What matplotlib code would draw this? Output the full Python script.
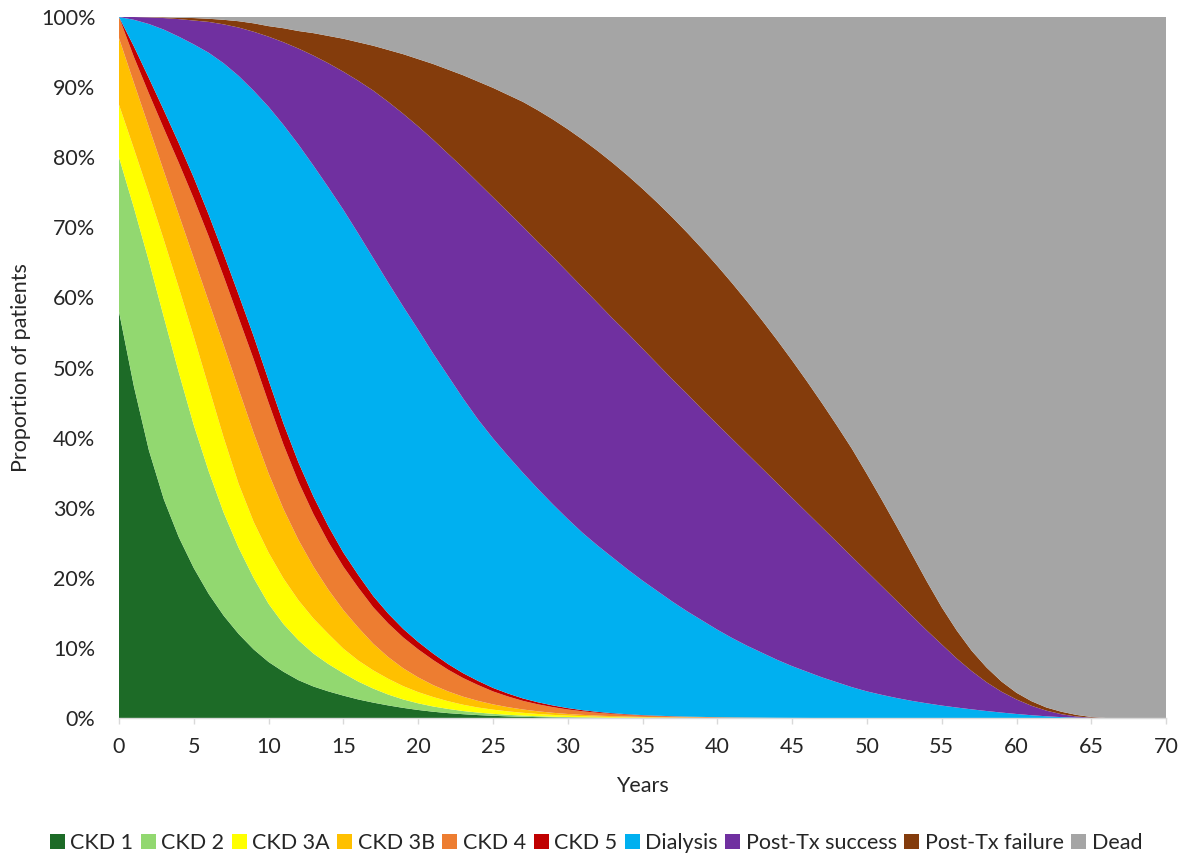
import matplotlib
matplotlib.use("Agg")
import matplotlib.pyplot as plt
from matplotlib.ticker import PercentFormatter
from matplotlib.patches import Patch

years = [0, 1, 2, 3, 4, 5, 6, 7, 8, 9, 10, 11, 12, 13, 14, 15, 16, 17, 18, 19, 20,
         21, 22, 23, 24, 25, 26, 27, 28, 29, 30, 31, 32, 33, 34, 35, 36, 37, 38, 39,
         40, 41, 42, 43, 44, 45, 46, 47, 48, 49, 50, 51, 52, 53, 54, 55, 56, 57, 58,
         59, 60, 61, 62, 63, 64, 65, 66, 70]

ckd1 = [58, 47.3, 38.2, 31.2, 25.8, 21.4, 17.7, 14.6, 12, 9.8, 8.0, 6.6, 5.4, 4.5,
        3.8, 3.2, 2.65, 2.2, 1.8, 1.45, 1.15, 0.9, 0.7, 0.55, 0.42, 0.32, 0.24, 0.18,
        0.13, 0.09, 0.06, 0.04, 0.03, 0.02, 0.01, 0, 0, 0, 0, 0, 0, 0, 0, 0, 0, 0, 0,
        0, 0, 0, 0, 0, 0, 0, 0, 0, 0, 0, 0, 0, 0, 0, 0, 0, 0, 0, 0, 0]
ckd2 = [22, 25.5, 27, 26, 23.5, 20.4, 17.5, 14.7, 12.3, 10.2, 8.3, 6.8, 5.7, 4.7, 3.9,
        3.2, 2.55, 2.0, 1.55, 1.2, 0.95, 0.75, 0.6, 0.45, 0.36, 0.28, 0.22, 0.17, 0.13,
        0.1, 0.08, 0.06, 0.04, 0.03, 0.02, 0.02, 0.01, 0, 0, 0, 0, 0, 0, 0, 0, 0, 0, 0,
        0, 0, 0, 0, 0, 0, 0, 0, 0, 0, 0, 0, 0, 0, 0, 0, 0, 0, 0, 0]
ckd3a = [7.5, 8.4, 9.6, 11, 12.1, 12.6, 12, 10.7, 9.1, 8, 7.3, 6.5, 5.7, 5.0, 4.3, 3.5,
         3.0, 2.6, 2.25, 1.9, 1.6, 1.35, 1.1, 0.9, 0.72, 0.6, 0.49, 0.4, 0.32, 0.26,
         0.21, 0.17, 0.13, 0.1, 0.08, 0.06, 0.05, 0.04, 0.03, 0.02, 0.01, 0, 0, 0, 0,
         0, 0, 0, 0, 0, 0, 0, 0, 0, 0, 0, 0, 0, 0, 0, 0, 0, 0, 0, 0, 0, 0, 0]
ckd3b = [9.5, 9.4, 9.5, 9.8, 10.4, 11.2, 12.2, 13.2, 13.5, 12.7, 11.3, 9.9, 8.6, 7.4,
         6.3, 5.5, 4.7, 3.8, 3.1, 2.55, 2.1, 1.7, 1.4, 1.15, 0.95, 0.75, 0.6, 0.47,
         0.38, 0.3, 0.23, 0.18, 0.15, 0.12, 0.1, 0.08, 0.06, 0.05, 0.04, 0.03, 0.03,
         0.03, 0.02, 0.01, 0, 0, 0, 0, 0, 0, 0, 0, 0, 0, 0, 0, 0, 0, 0, 0, 0, 0, 0, 0,
         0, 0, 0, 0]
ckd4 = [3, 3.7, 4.8, 6.1, 7.4, 8.5, 9.3, 9.8, 10.2, 10.5, 10.1, 9.2, 8.3, 7.5, 6.8,
        6.2, 5.7, 5.2, 4.8, 4.4, 4.0, 3.58, 3.1, 2.66, 2.26, 1.85, 1.53, 1.23, 1.0,
        0.81, 0.64, 0.51, 0.4, 0.32, 0.25, 0.2, 0.16, 0.13, 0.1, 0.09, 0.06, 0.05,
        0.04, 0.04, 0.03, 0.02, 0.01, 0, 0, 0, 0, 0, 0, 0, 0, 0, 0, 0, 0, 0, 0, 0, 0,
        0, 0, 0, 0, 0]
ckd5 = [0, 1.5, 2.2, 2.6, 2.8, 3.0, 3.1, 3.2, 3.3, 3.3, 3.2, 3.0, 2.75, 2.5, 2.25,
        2.0, 1.8, 1.6, 1.4, 1.22, 1.06, 0.92, 0.8, 0.69, 0.59, 0.5, 0.42, 0.35, 0.29,
        0.24, 0.2, 0.16, 0.13, 0.1, 0.08, 0.06, 0.05, 0.04, 0.03, 0.02, 0.02, 0.01,
        0.01, 0, 0, 0, 0, 0, 0, 0, 0, 0, 0, 0, 0, 0, 0, 0, 0, 0, 0, 0, 0, 0, 0, 0, 0, 0]
dialysis = [0, 3.8, 7.7, 11.5, 15.2, 19.0, 23.1, 27.2, 31.2, 35.0, 39.0, 42.6, 45.35,
            47.2, 48.35, 48.9, 48.7, 48.2, 47.2, 45.98, 44.54, 42.8, 41.1, 39.2, 37.3,
            35.6, 33.9, 32.2, 30.45, 28.7, 26.98, 25.28, 23.72, 22.21, 20.66, 19.18,
            17.77, 16.34, 15.0, 13.74, 12.48, 11.31, 10.23, 9.25, 8.27, 7.38, 6.59,
            5.8, 5.1, 4.4, 3.8, 3.3, 2.85, 2.45, 2.1, 1.78, 1.5, 1.24, 1.0, 0.78,
            0.58, 0.4, 0.25, 0.13, 0.05, 0.01, 0, 0]
tx_success = [0, 0.4, 0.95, 1.65, 2.5, 3.4, 4.4, 5.55, 6.9, 8.4, 10.0, 11.8, 13.7,
              15.7, 17.7, 19.7, 21.8, 23.9, 25.8, 27.5, 29.0, 30.5, 31.7, 32.9, 33.8,
              34.4, 34.8, 35.1, 35.2, 35.3, 35.2, 35.0, 34.6, 34.1, 33.7, 33.1, 32.4,
              31.7, 31.0, 30.1, 29.3, 28.4, 27.4, 26.3, 25.2, 24.0, 22.7, 21.4, 20.0,
              18.6, 17.1, 15.5, 13.85, 12.15, 10.4, 8.72, 7.0, 5.46, 4.1, 2.97, 2.07,
              1.35, 0.8, 0.42, 0.17, 0.04, 0, 0]
tx_failure = [0, 0, 0.03, 0.1, 0.2, 0.35, 0.45, 0.65, 0.9, 1.2, 1.5, 2.0, 2.5, 3.2,
              3.9, 4.7, 5.5, 6.4, 7.4, 8.5, 9.6, 10.8, 12.0, 13.2, 14.4, 15.6, 16.7,
              17.8, 18.8, 19.6, 20.4, 21.1, 21.7, 22.2, 22.5, 22.8, 23.0, 23.1, 23.0,
              22.9, 22.6, 22.2, 21.7, 21.1, 20.4, 19.6, 18.7, 17.7, 16.6, 15.4, 13.9,
              12.3, 10.6, 8.8, 7.0, 5.3, 4.0, 2.9, 2.1, 1.45, 0.95, 0.65, 0.45, 0.35,
              0.23, 0.1, 0, 0]
dead = [0, 0, 0.02, 0.05, 0.1, 0.15, 0.25, 0.4, 0.6, 0.9, 1.3, 1.6, 2.0, 2.3, 2.7, 3.1,
        3.6, 4.1, 4.7, 5.3, 6.0, 6.7, 7.5, 8.3, 9.2, 10.1, 11.1, 12.1, 13.3, 14.6, 16.0,
        17.5, 19.1, 20.8, 22.6, 24.5, 26.5, 28.6, 30.8, 33.1, 35.5, 38.0, 40.6, 43.3,
        46.1, 49.0, 52.0, 55.1, 58.3, 61.6, 65.2, 68.9, 72.7, 76.6, 80.5, 84.2, 87.5,
        90.4, 92.8, 94.8, 96.4, 97.6, 98.5, 99.1, 99.55, 99.85, 100, 100]

labels = ["CKD 1", "CKD 2", "CKD 3A", "CKD 3B", "CKD 4", "CKD 5", "Dialysis",
          "Post-Tx success", "Post-Tx failure", "Dead"]
colors = ["#1D6B27", "#92D870", "#FFFF00", "#FFC000", "#ED7D31", "#C00000",
          "#00B0F0", "#7030A0", "#843C0C", "#A5A5A5"]

plt.rcParams['font.family'] = ['Lato', 'DejaVu Sans']
text_color = "#262626"
fs = 15.5

fig = plt.figure(figsize=(11.92, 8.59), dpi=100)
ax = fig.add_axes([0.0998, 0.1641, 0.8785, 0.8161])

series = [ckd1, ckd2, ckd3a, ckd3b, ckd4, ckd5, dialysis, tx_success, tx_failure, dead]
ax.stackplot(years, *series, colors=colors, labels=labels, linewidth=0)

ax.set_xlim(0, 70)
ax.set_ylim(0, 100)
ax.set_xticks(range(0, 71, 5))
ax.set_yticks(range(0, 101, 10))
ax.yaxis.set_major_formatter(PercentFormatter(decimals=0))

for s in ["top", "right", "left"]:
    ax.spines[s].set_visible(False)
ax.spines["bottom"].set_color("#D9D9D9")
ax.spines["bottom"].set_linewidth(1.0)
ax.tick_params(axis="x", colors="#D9D9D9", length=4, width=1, labelcolor=text_color,
               labelsize=fs, pad=10)
ax.tick_params(axis="y", length=0, labelcolor=text_color, labelsize=fs, pad=17)

ax.set_xlabel("Years", fontsize=fs, color=text_color, labelpad=13)
ax.set_ylabel("Proportion of patients", fontsize=fs, color=text_color, labelpad=7)

handles = [Patch(facecolor=c, edgecolor="none") for c in colors]
fig.legend(handles, labels, loc="center", bbox_to_anchor=(0.5, 0.019), ncol=10,
           frameon=False, fontsize=fs, handlelength=0.7, handleheight=0.7,
           handletextpad=0.25, columnspacing=0.35, labelcolor=text_color)

fig.savefig("out.png", dpi=100, facecolor="white")
